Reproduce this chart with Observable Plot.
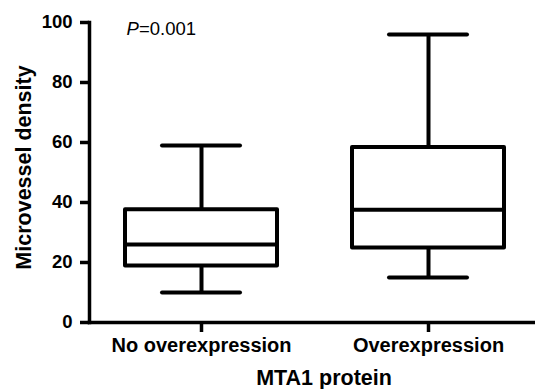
<!DOCTYPE html>
<html>
<head>
<meta charset="utf-8">
<script src="https://cdn.jsdelivr.net/npm/d3@7"></script>
<script src="https://cdn.jsdelivr.net/npm/@observablehq/plot@0.6"></script>
<style>
  html, body { margin: 0; padding: 0; background: #fff; }
  #chart svg { font-family: "Liberation Sans", Arial, sans-serif; }
</style>
</head>
<body>
<div id="chart"></div>
<script>
// ---- data ----
const groups = ["No overexpression", "Overexpression"];
const mins = [10, 15];
const q1s = [18.8, 24.8];
const medians = [26, 37.6];
const q3s = [37.6, 58.3];
const maxs = [59, 96];
const yTicks = [0, 20, 40, 60, 80, 100];
const pSymbol = "P";
const pValue = "=0.001";
const xTitle = "MTA1 protein";
const yTitle = "Microvessel density";

const rows = groups.map((g, i) => ({
  group: g, min: mins[i], q1: q1s[i], median: medians[i], q3: q3s[i], max: maxs[i]
}));

const black = "#000";
const boxW = 4;

const chart = Plot.plot({
  width: 535,
  height: 389,
  marginLeft: 89,
  marginRight: 0,
  marginTop: 22,
  marginBottom: 67,
  style: { fontFamily: '"Liberation Sans", Arial, sans-serif', background: "#fff", color: black },
  x: { type: "band", domain: groups, range: [89, 541], paddingInner: 0.33, paddingOuter: 0.16 },
  y: { domain: [0, 100], range: [322, 22] },
  marks: [
    // whiskers
    Plot.ruleX(rows, { x: "group", y1: "min", y2: "q1", stroke: black, strokeWidth: boxW }),
    Plot.ruleX(rows, { x: "group", y1: "q3", y2: "max", stroke: black, strokeWidth: boxW }),
    // caps
    Plot.tickY(rows, { x: "group", y: "min", stroke: black, strokeWidth: boxW, insetLeft: 37, insetRight: 37, strokeLinecap: "round" }),
    Plot.tickY(rows, { x: "group", y: "max", stroke: black, strokeWidth: boxW, insetLeft: 37, insetRight: 37, strokeLinecap: "round" }),
    // box
    Plot.rectY(rows, { x: "group", y1: "q1", y2: "q3", fill: "white", stroke: black, strokeWidth: boxW, strokeLinejoin: "round" }),
    // median
    Plot.tickY(rows, { x: "group", y: "median", stroke: black, strokeWidth: boxW }),
    // axes
    Plot.frame({ anchor: "left", stroke: black, strokeWidth: 3.5 }),
    Plot.frame({ anchor: "bottom", stroke: black, strokeWidth: 3.5 }),
    Plot.axisY({ ticks: yTicks, tickSize: 9, tickPadding: 8, fontSize: 18.5, fontWeight: "bold", stroke: black, strokeWidth: 3.5, fill: black, label: null }),
    Plot.axisX({ tickSize: 10, tickPadding: 5, fontSize: 20, fontWeight: "bold", stroke: black, strokeWidth: 3.5, fill: black, label: null }),
    // titles
    Plot.text([yTitle], { frameAnchor: "left", textAnchor: "middle", lineAnchor: "middle", rotate: -90, dx: -65, dy: -5, fontSize: 21.5, fontWeight: "bold", fill: black }),
    Plot.text([xTitle], { frameAnchor: "bottom", textAnchor: "middle", lineAnchor: "middle", dx: 11.5, dy: 56, fontSize: 21.5, fontWeight: "bold", fill: black }),
    // P value annotation (italic P)
    Plot.text([pSymbol], { frameAnchor: "top-left", textAnchor: "start", lineAnchor: "top", dx: 37, dy: -1, fontSize: 18.5, fontStyle: "italic", fill: black }),
    Plot.text([pValue], { frameAnchor: "top-left", textAnchor: "start", lineAnchor: "top", dx: 49.5, dy: -1, fontSize: 18.5, fill: black })
  ]
});

document.getElementById("chart").appendChild(chart);
</script>
</body>
</html>
